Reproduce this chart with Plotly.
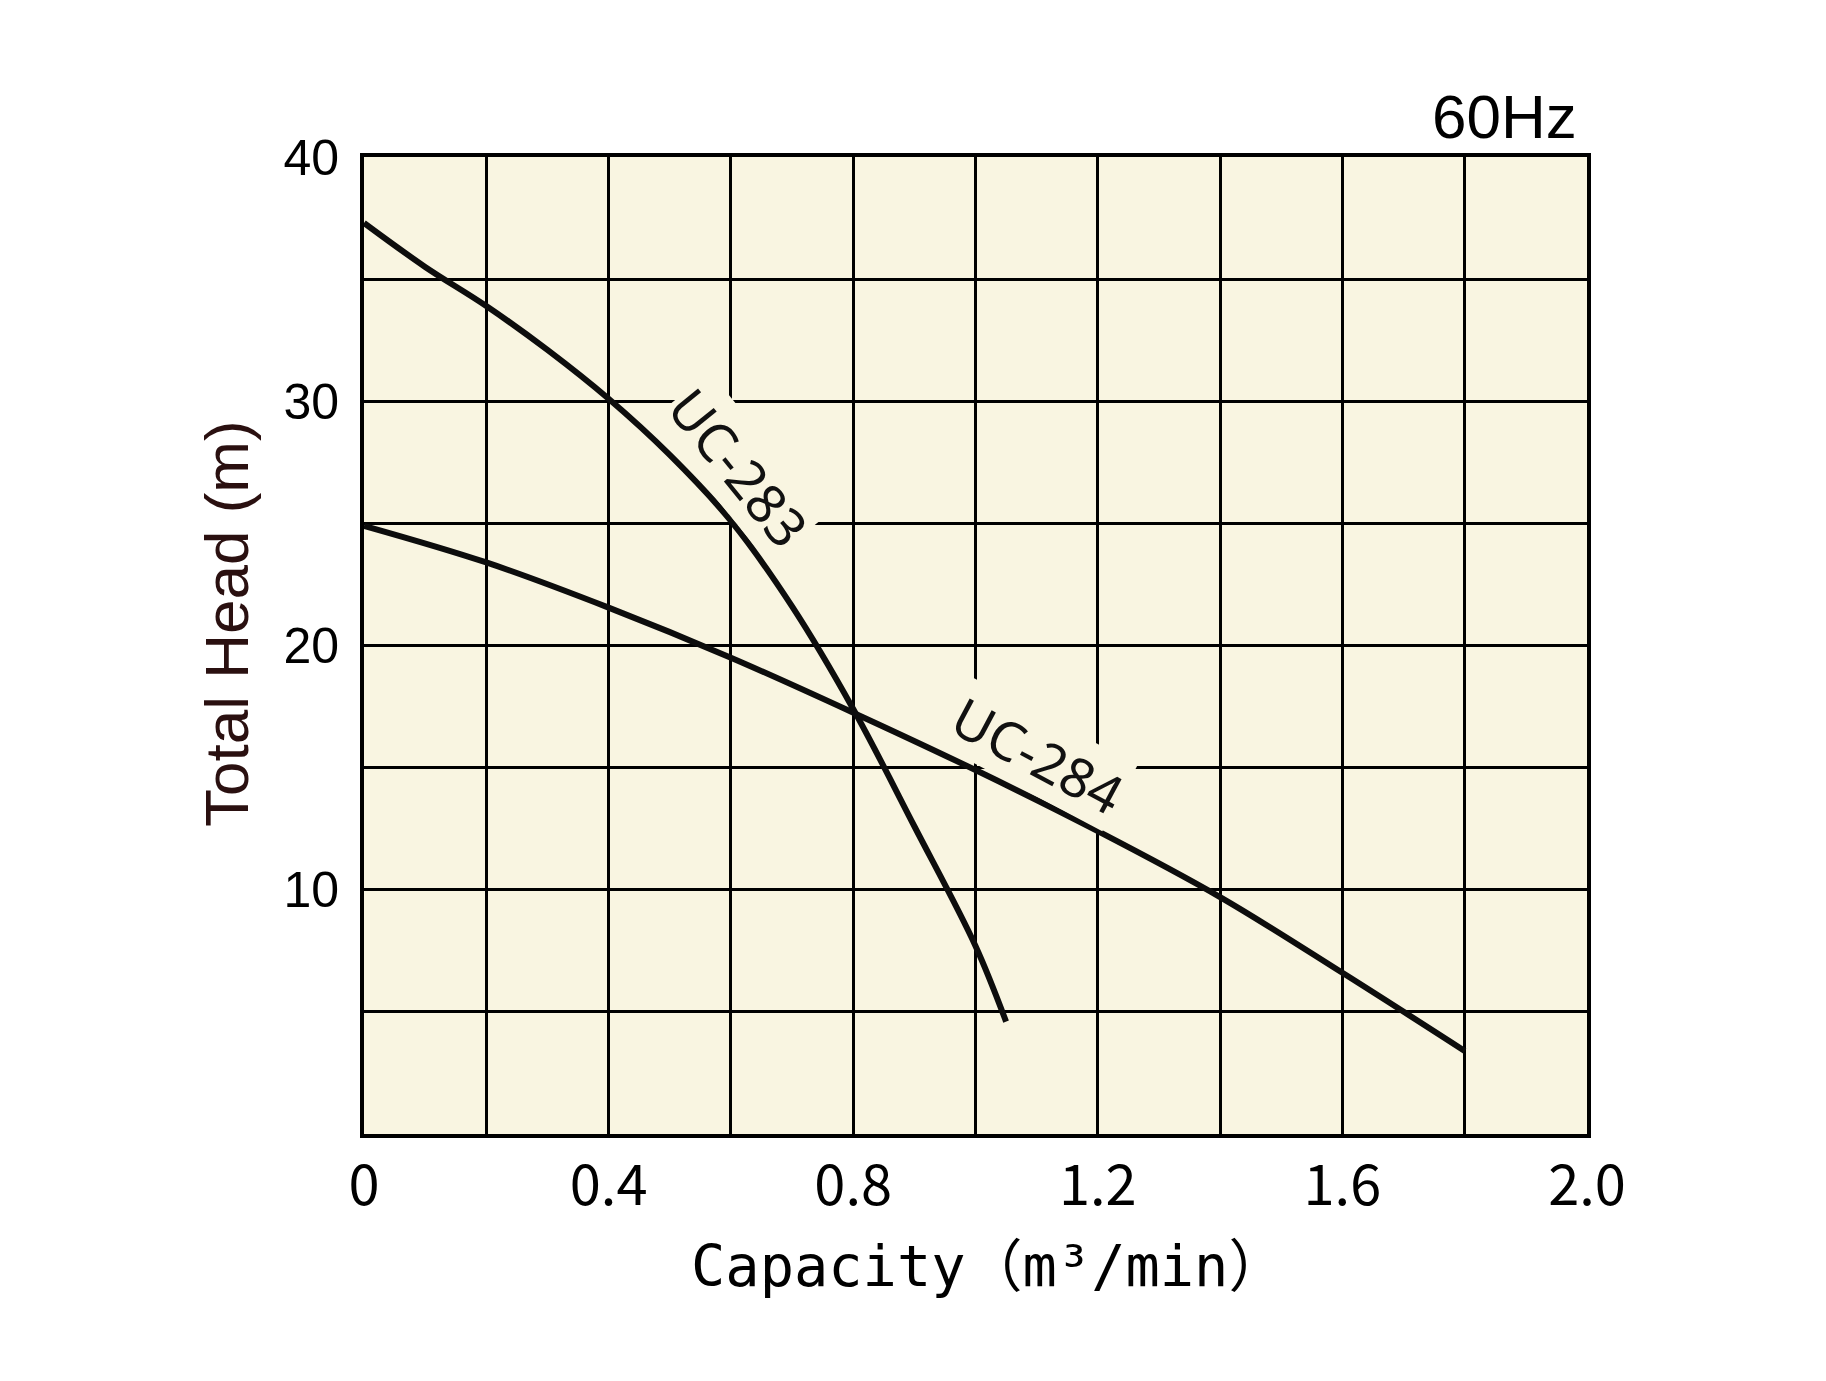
import plotly.graph_objects as go

# pump curves (capacity m3/min, head m)
uc283_q = [0.0, 0.1, 0.2, 0.3, 0.4, 0.5, 0.6, 0.7, 0.8, 0.9, 1.0, 1.05]
uc283_h = [37.3, 35.5, 33.9, 32.1, 30.1, 27.8, 25.1, 21.6, 17.4, 12.6, 7.7, 4.6]

uc284_q = [0.0, 0.2, 0.4, 0.6, 0.8, 1.0, 1.2, 1.4, 1.6, 1.8]
uc284_h = [24.9, 23.4, 21.55, 19.5, 17.25, 14.9, 12.4, 9.7, 6.6, 3.4]

x_ticks = [0.0, 0.2, 0.4, 0.6, 0.8, 1.0, 1.2, 1.4, 1.6, 1.8, 2.0]
x_labels = ['0', '', '0.4', '', '0.8', '', '1.2', '', '1.6', '', '2.0']
y_ticks = [0, 5, 10, 15, 20, 25, 30, 35, 40]
y_labels = ['', '', '10', '', '20', '', '30', '', '40']

BG = '#F9F5E1'
LINE = dict(color='#0d0d0d', width=6, shape='spline', smoothing=1.0)

fig = go.Figure()
fig.add_trace(go.Scatter(x=uc283_q, y=uc283_h, mode='lines', line=LINE,
                         showlegend=False, hoverinfo='skip'))
fig.add_trace(go.Scatter(x=uc284_q, y=uc284_h, mode='lines', line=LINE,
                         showlegend=False, hoverinfo='skip'))

label_font = dict(family='Noto Sans, DejaVu Sans', size=54, color='#111111')
fig.add_annotation(x=0.613, y=27.3, text='UC-283', showarrow=False,
                   textangle=51, font=label_font, bgcolor=BG, borderpad=0)
fig.add_annotation(x=1.103, y=15.5, text='UC-284', showarrow=False,
                   textangle=28, font=label_font, bgcolor=BG, borderpad=0)

fig.add_annotation(x=1.0, y=1.0, xref='paper', yref='paper', text='60Hz',
                   showarrow=False, xanchor='right', yanchor='bottom',
                   xshift=-8, yshift=4,
                   font=dict(family='Liberation Sans, Arial', size=62, color='#000'))

# axis titles placed as annotations to match the original's offsets
fig.add_annotation(x=0, y=0.522, xref='paper', yref='paper', text='Total Head (m)',
                   showarrow=False, textangle=-90, xanchor='center', yanchor='middle',
                   xshift=-138,
                   font=dict(family='Liberation Sans, Arial', size=62, color='#2a1010'))
fig.add_annotation(x=0.51, y=0, xref='paper', yref='paper', text='Capacity（m³/min）',
                   showarrow=False, xanchor='center', yanchor='middle', yshift=-132,
                   font=dict(family='DejaVu Sans Mono, Noto Sans CJK JP', size=57, color='#000'))

fig.update_layout(
    width=1826, height=1381,
    margin=dict(l=356, r=247, t=149, b=255),
    paper_bgcolor='white', plot_bgcolor=BG,
    xaxis=dict(
        range=[0, 2.0], tickvals=x_ticks, ticktext=x_labels,
        showgrid=True, gridcolor='#000', gridwidth=3,
        showline=True, linecolor='#000', linewidth=4, mirror=True,
        ticks='', zeroline=False, ticklabelstandoff=0,
        tickfont=dict(family='Noto Sans CJK JP, Liberation Sans', size=56, color='#000'),
    ),
    yaxis=dict(
        range=[0, 40], tickvals=y_ticks, ticktext=y_labels,
        showgrid=True, gridcolor='#000', gridwidth=3,
        showline=True, linecolor='#000', linewidth=4, mirror=True,
        ticks='', zeroline=False, ticklabelstandoff=11,
        tickfont=dict(family='Liberation Sans, Arial', size=50, color='#000'),
    ),
)

fig.write_html('out.html')
